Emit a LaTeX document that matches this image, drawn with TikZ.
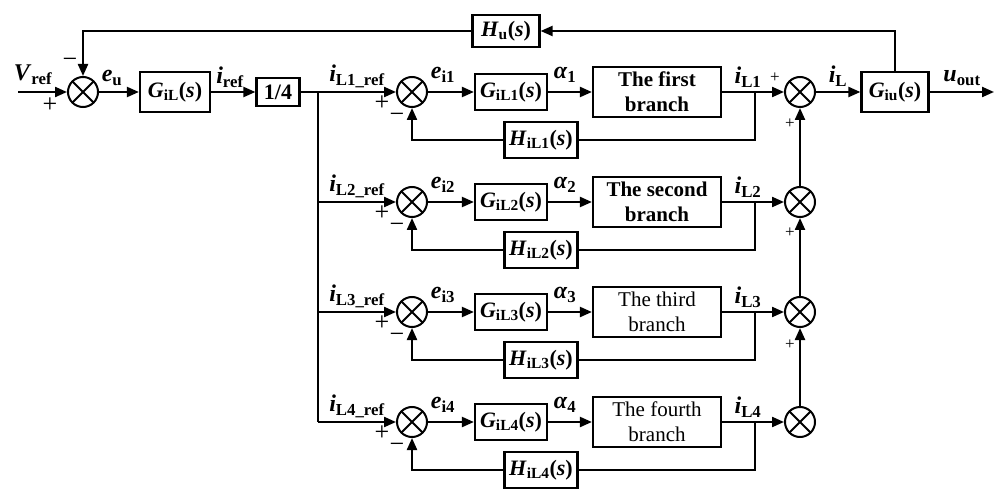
\documentclass[tikz,border=0pt]{standalone}
\usepackage{fontspec}
\setmainfont{Liberation Serif}
\usetikzlibrary{arrows.meta,calc}
\tikzset{pin/.style={-{Stealth[length=12pt,width=10pt,inset=0pt]}},
  blk/.style={draw, line width=2.2pt, inner sep=0pt, minimum width=70pt, minimum height=36pt,
    font=\fontsize{22}{26}\selectfont},
  sumj/.style={draw, circle, line width=2pt, minimum size=30pt, inner sep=0pt,
    path picture={\draw[line width=2pt] (path picture bounding box.north west) -- (path picture bounding box.south east)
      (path picture bounding box.north east) -- (path picture bounding box.south west);}},
  lbl/.style={inner sep=0pt, font=\fontsize{24}{28}\selectfont},
  sgnb/.style={inner sep=0pt, font=\fontsize{26}{28}\selectfont},
  sgn/.style={inner sep=0pt, font=\fontsize{17}{19}\selectfont}}
\newcommand{\sig}[2]{\textbf{\textit{#1}\textsubscript{#2}}}
\newcommand{\tfn}[2]{\textbf{\textit{#1}\textsubscript{#2}(\textit{s})}}

\begin{document}
\begin{tikzpicture}[x=1pt, y=-1pt, line width=2.2pt]
  \useasboundingbox (0,0) rectangle (995,494);
  % outer voltage loop
  \coordinate (vin) at (18,92);
  \node[sumj] (s0) at (83,92) {};
  \node[blk, minimum height=40pt] (gil) at (175,92) {\tfn{G}{iL}};
  \node[blk, minimum width=43pt, minimum height=28pt] (q) at (278,92) {\textbf{1/4}};
  \coordinate (br) at (318,92);
  \node[lbl] (vref) at (33,75) {\sig{V}{ref}};
  \node[sgnb] (p0) at (50,105) {+};
  \node[sgnb] (m0) at (70,63) {−};
  \node[lbl] (eu) at (112,78) {\sig{e}{u}};
  \node[lbl] (iref) at (230,77) {\sig{i}{ref}};
  \draw[pin] (vin) -- (s0);
  \draw[pin] (s0) -- (gil);
  \draw[pin] (gil) -- (q);
  \draw (q) -- (br) -- (br |- 0,422);
  % four current loops
  \foreach \k/\y/\nm/\wt in {1/92/first/\bfseries, 2/202/second/\bfseries, 3/312/third/\mdseries, 4/422/fourth/\mdseries} {
    \node[sumj] (s\k) at (412,\y) {};
    \node[blk, minimum width=72pt] (g\k) at (511,\y) {\tfn{G}{iL\k}};
    \node[blk, minimum width=128pt, minimum height=50pt, align=center,
      font=\fontsize{21}{25}\selectfont\wt] (b\k) at (657,\y) {The \nm\\branch};
    \node[blk, minimum width=73pt] (h\k) at (541,\y+48) {\tfn{H}{iL\k}};
    \coordinate (t\k) at (755,\y);
    \node[sumj] (r\k) at (800,\y) {};
    \draw[pin] (br |- s\k) -- (s\k);
    \draw[pin] (s\k) -- (g\k);
    \draw[pin] (g\k) -- (b\k);
    \draw[pin] (b\k) -- (r\k);
    \draw (t\k) |- (h\k);
    \draw[pin] (h\k) -| (s\k);
    \node[lbl] (ir\k) at (357,\y-16) {\sig{i}{L\k\_ref}};
    \node[sgnb] (pa\k) at (382,\y+11) {+};
    \node[sgnb] (ma\k) at (397,\y+26) {−};
    \node[lbl] (e\k) at (443,\y-17) {\sig{e}{i\k}};
    \node[lbl] (a\k) at (565,\y-17) {\sig{α}{\k}};
    \node[lbl] (il\k) at (748,\y-15) {\sig{i}{L\k}};
  }
  % summing the branch currents
  \draw[pin] (r4) -- (r3);
  \draw[pin] (r3) -- (r2);
  \draw[pin] (r2) -- (r1);
  \node[sgn] (pr0) at (775,78) {+};
  \node[sgn] (pr1) at (790,124) {+};
  \node[sgn] (pr2) at (790,233) {+};
  \node[sgn] (pr3) at (790,345) {+};
  % output and voltage feedback
  \node[blk, minimum width=67pt, minimum height=40pt] (giu) at (895,92) {\tfn{G}{iu}};
  \coordinate (vout) at (994,92);
  \node[blk, minimum width=67pt, minimum height=32pt] (hu) at (506,31) {\tfn{H}{u}};
  \node[lbl] (il) at (838,76) {\sig{i}{L}};
  \node[lbl] (uout) at (962,78) {\sig{u}{out}};
  \draw[pin] (r1) -- (giu);
  \draw[pin] (giu) -- (vout);
  \draw[pin] (giu.north) |- (hu);
  \draw[pin] (hu) -| (s0);
\end{tikzpicture}
\end{document}
